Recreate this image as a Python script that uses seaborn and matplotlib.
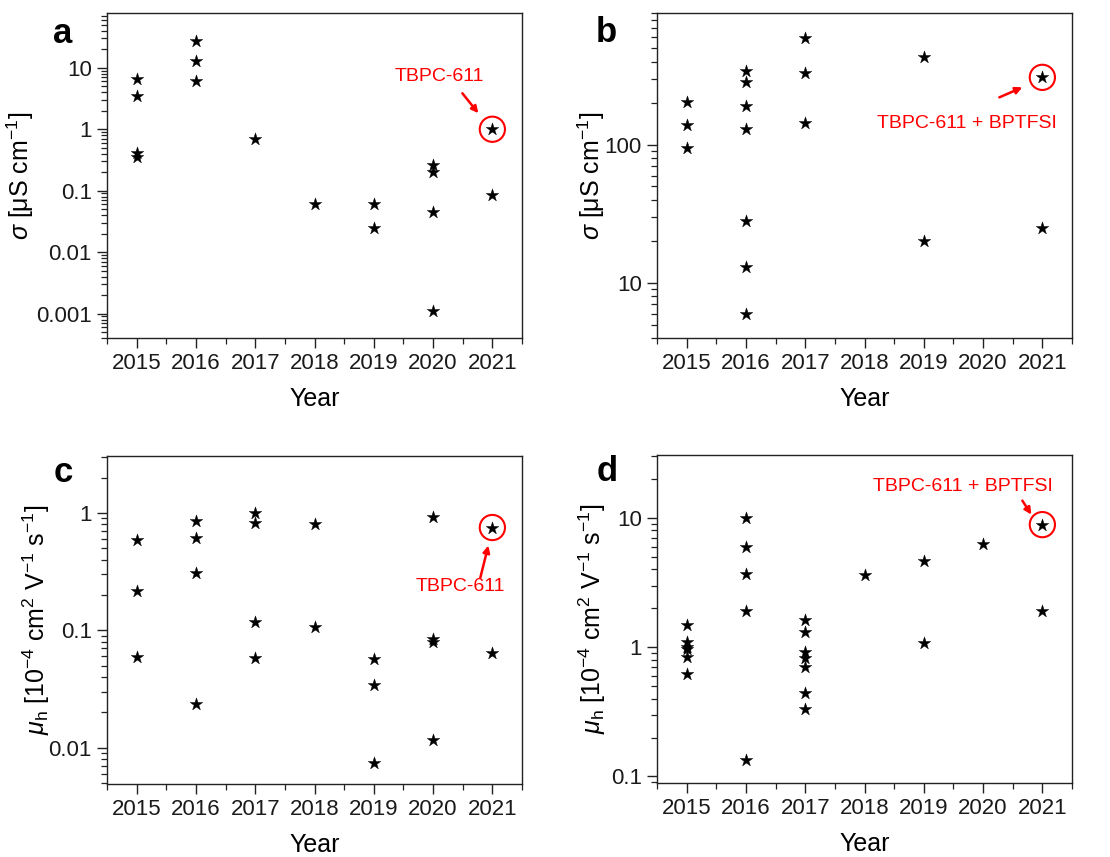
import numpy as np
import pandas as pd
import matplotlib
matplotlib.use("Agg")
import matplotlib.pyplot as plt
import matplotlib.ticker as mticker
from matplotlib.transforms import offset_copy
import seaborn as sns

# ---- data -------------------------------------------------------------
years_a = [2015, 2015, 2015, 2015, 2016, 2016, 2016, 2017, 2018, 2019, 2019,
           2020, 2020, 2020, 2020, 2021, 2021]
sigma_pristine = [6.5, 3.5, 0.41, 0.35, 27, 12.8, 6.1, 0.69, 0.061, 0.061, 0.025,
                  0.26, 0.198, 0.045, 0.00108, 1.0, 0.084]

years_b = [2015, 2015, 2015, 2016, 2016, 2016, 2016, 2016, 2016, 2016,
           2017, 2017, 2017, 2019, 2019, 2021, 2021]
sigma_doped = [203, 139, 95, 344, 285, 191, 131, 28, 13.1, 6.0,
               590, 330, 143, 430, 20, 308, 25]

years_c = [2015, 2015, 2015, 2016, 2016, 2016, 2016, 2017, 2017, 2017, 2017,
           2018, 2018, 2019, 2019, 2019, 2020, 2020, 2020, 2020, 2021, 2021]
mobility_pristine = [0.59, 0.214, 0.059, 0.85, 0.61, 0.31, 0.0235, 0.99, 0.82, 0.118, 0.058,
                     0.80, 0.107, 0.057, 0.034, 0.0074, 0.93, 0.085, 0.079, 0.0116, 0.75, 0.064]

years_d = [2015, 2015, 2015, 2015, 2015, 2015, 2016, 2016, 2016, 2016, 2016,
           2017, 2017, 2017, 2017, 2017, 2017, 2017, 2018, 2019, 2019, 2020, 2021, 2021]
mobility_doped = [1.48, 1.1, 1.0, 0.97, 0.84, 0.62, 9.95, 6.0, 3.69, 1.91, 0.134,
                  1.61, 1.30, 0.92, 0.83, 0.70, 0.44, 0.33, 3.6, 4.62, 1.07, 6.26, 8.88, 1.91]

year_ticks = [2015, 2016, 2017, 2018, 2019, 2020, 2021]

highlight_year = 2021
highlight = {"a": 1.0, "b": 308, "c": 0.75, "d": 8.88}
highlight_text = {"a": "TBPC-611", "b": "TBPC-611 + BPTFSI",
                  "c": "TBPC-611", "d": "TBPC-611 + BPTFSI"}

# ---- style ------------------------------------------------------------
sns.set_style("ticks")
plt.rcParams["font.family"] = ["Liberation Sans", "DejaVu Sans"]
plt.rcParams["mathtext.fontset"] = "custom"
plt.rcParams["mathtext.rm"] = "Liberation Sans"
plt.rcParams["mathtext.it"] = "Liberation Sans:italic"
plt.rcParams["mathtext.bf"] = "Liberation Sans:bold"
plt.rcParams["axes.linewidth"] = 1.0
plt.rcParams["axes.edgecolor"] = "#222222"
plt.rcParams["text.color"] = "black"
plt.rcParams["axes.labelcolor"] = "black"
plt.rcParams["xtick.labelcolor"] = "#1a1a1a"
plt.rcParams["ytick.labelcolor"] = "#1a1a1a"

W, H = 1110, 857
fig = plt.figure(figsize=(W / 100, H / 100), dpi=100)

def frac_rect(left, top, right, bottom):
    return [left / W, 1 - bottom / H, (right - left) / W, (bottom - top) / H]

axes = {
    "a": fig.add_axes(frac_rect(107, 13, 522, 338)),
    "b": fig.add_axes(frac_rect(657, 13, 1072, 338)),
    "c": fig.add_axes(frac_rect(107, 456, 522, 784)),
    "d": fig.add_axes(frac_rect(657, 455, 1072, 783)),
}

frames = {
    "a": pd.DataFrame({"Year": years_a, "value": sigma_pristine}),
    "b": pd.DataFrame({"Year": years_b, "value": sigma_doped}),
    "c": pd.DataFrame({"Year": years_c, "value": mobility_pristine}),
    "d": pd.DataFrame({"Year": years_d, "value": mobility_doped}),
}

ylims = {"a": (4e-4, 78), "b": (4, 900), "c": (0.0049, 3.05), "d": (0.089, 30.7)}
sigma_label = r"$\sigma$ [μS cm$^{-1}$]"
mu_label = r"$\mu_{\mathrm{h}}$ [10$^{-4}$ cm$^{2}$ V$^{-1}$ s$^{-1}$]"
ylabels = {"a": sigma_label, "b": sigma_label, "c": mu_label, "d": mu_label}
ylabel_x = {"a": -0.171, "b": -0.12, "c": -0.133, "d": -0.118}
panel_xy = {"a": (-0.106, 0.938), "b": (-0.123, 0.94), "c": (-0.106, 0.951), "d": (-0.121, 0.951)}

# offsets in pixels relative to the highlighted point: arrow tail, arrow head, text centre
arrow_geom = {
    "a": ((-30, 36), (-14, 16), (-53, 53)),
    "b": ((-43, -20), (-20, -10), (-75, -46)),
    "c": ((-12, -50), (-4, -18), (-32, -59)),
    "d": ((-20, 24), (-11, 10), (-79, 38)),
}

for key, ax in axes.items():
    df = frames[key]
    sns.scatterplot(data=df, x="Year", y="value", ax=ax, marker="*", s=90,
                    color="black", edgecolor="black", linewidth=0.3, legend=False, zorder=3)
    ax.set_yscale("log")
    ax.set_ylim(*ylims[key])
    ax.set_xlim(2014.5, 2021.5)
    ax.set_xticks(year_ticks)
    ax.set_xticklabels([str(y) for y in year_ticks])
    ax.xaxis.set_minor_locator(mticker.MultipleLocator(0.5))
    ax.yaxis.set_major_locator(mticker.LogLocator(base=10, numticks=20))
    ax.yaxis.set_minor_locator(mticker.LogLocator(base=10, subs=np.arange(2, 10), numticks=20))
    ax.yaxis.set_major_formatter(mticker.FuncFormatter(lambda v, p: f"{v:g}"))
    ax.yaxis.set_minor_formatter(mticker.NullFormatter())
    ax.tick_params(which="major", direction="out", length=7, width=1.0,
                   labelsize=16, pad=4, color="#222222")
    ax.tick_params(which="minor", direction="out", length=4, width=0.9, color="#222222")
    ax.tick_params(top=False, right=False, which="both")
    for s in ["top", "right", "left", "bottom"]:
        ax.spines[s].set_visible(True)
    ax.set_xlabel("Year", fontsize=18, labelpad=9)
    ax.set_ylabel(ylabels[key], fontsize=18)
    ax.yaxis.set_label_coords(ylabel_x[key], 0.5)
    px, py = panel_xy[key]
    ax.text(px, py, key, transform=ax.transAxes, fontsize=25, fontweight="bold",
            ha="center", va="center")

    # highlighted sample
    hv = highlight[key]
    ax.scatter([highlight_year], [hv], s=330, facecolors="none", edgecolors="red",
               linewidths=1.5, zorder=4)
    tail, head, txt = arrow_geom[key]
    tail_tr = offset_copy(ax.transData, fig=fig, x=tail[0], y=tail[1], units="dots")
    head_tr = offset_copy(ax.transData, fig=fig, x=head[0], y=head[1], units="dots")
    txt_tr = offset_copy(ax.transData, fig=fig, x=txt[0], y=txt[1], units="dots")
    ax.annotate("", xy=(highlight_year, hv), xycoords=head_tr,
                xytext=(highlight_year, hv), textcoords=tail_tr,
                arrowprops=dict(arrowstyle="-|>", color="red", lw=1.8,
                                mutation_scale=10, shrinkA=0, shrinkB=0))
    ax.text(highlight_year, hv, highlight_text[key], transform=txt_tr, color="red",
            fontsize=14, ha="center", va="center")

fig.savefig("out.png", dpi=100)
